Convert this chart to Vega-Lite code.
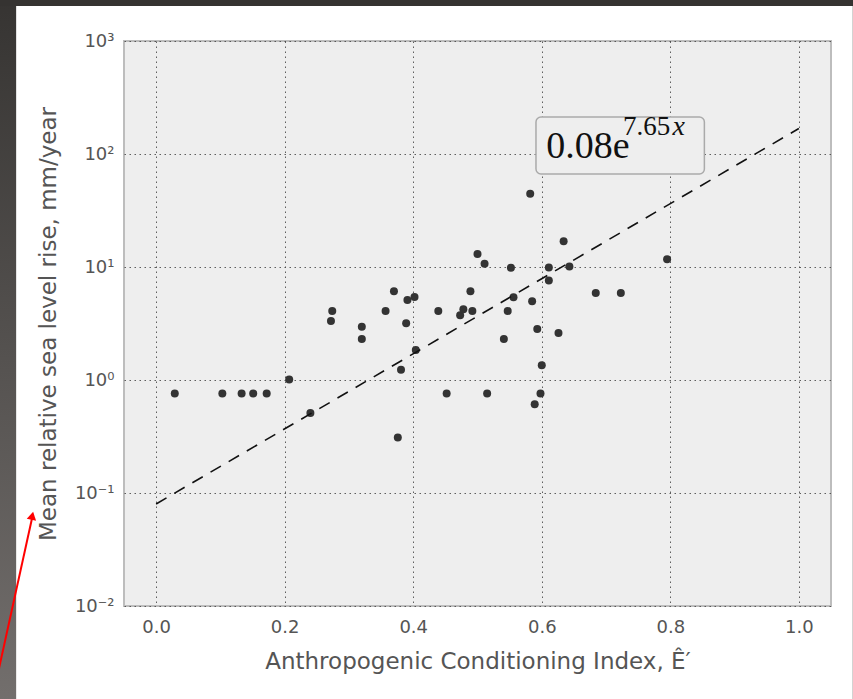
{
  "$schema": "https://vega.github.io/schema/vega-lite/v6.json",
  "width": 707,
  "height": 565,
  "autosize": {"type": "none"},
  "padding": {"left": 124, "top": 41, "right": 22, "bottom": 93},
  "background": "white",
  "config": {
    "view": {"fill": "#eeeeee", "stroke": "#bdbdbd", "strokeWidth": 2},
    "axis": {
      "domain": false,
      "ticks": false,
      "grid": true,
      "gridColor": "#444444",
      "gridDash": [1.5, 3.5],
      "gridOpacity": 0.85,
      "labelFont": "DejaVu Sans",
      "labelFontSize": 18,
      "labelColor": "#555555",
      "titleFont": "DejaVu Sans",
      "titleFontSize": 23,
      "titleFontWeight": "normal",
      "titleColor": "#555555"
    }
  },
  "datasets": {
    "points": [
      {"x": 0.029, "y": 0.76}, {"x": 0.103, "y": 0.76}, {"x": 0.133, "y": 0.76},
      {"x": 0.151, "y": 0.76}, {"x": 0.172, "y": 0.76}, {"x": 0.207, "y": 1.01},
      {"x": 0.240, "y": 0.51}, {"x": 0.274, "y": 4.08}, {"x": 0.272, "y": 3.33},
      {"x": 0.320, "y": 2.96}, {"x": 0.320, "y": 2.31}, {"x": 0.357, "y": 4.08},
      {"x": 0.370, "y": 6.1}, {"x": 0.391, "y": 5.1}, {"x": 0.402, "y": 5.43},
      {"x": 0.389, "y": 3.18}, {"x": 0.404, "y": 1.84}, {"x": 0.381, "y": 1.23},
      {"x": 0.376, "y": 0.31}, {"x": 0.439, "y": 4.08}, {"x": 0.452, "y": 0.76},
      {"x": 0.473, "y": 3.74}, {"x": 0.478, "y": 4.22}, {"x": 0.492, "y": 4.08},
      {"x": 0.489, "y": 6.1}, {"x": 0.500, "y": 13.0}, {"x": 0.511, "y": 10.7},
      {"x": 0.515, "y": 0.76}, {"x": 0.552, "y": 9.86}, {"x": 0.556, "y": 5.41},
      {"x": 0.547, "y": 4.08}, {"x": 0.541, "y": 2.31}, {"x": 0.585, "y": 4.98},
      {"x": 0.593, "y": 2.82}, {"x": 0.600, "y": 1.35}, {"x": 0.598, "y": 0.76},
      {"x": 0.589, "y": 0.61}, {"x": 0.611, "y": 9.9}, {"x": 0.611, "y": 7.6},
      {"x": 0.626, "y": 2.6}, {"x": 0.634, "y": 16.9}, {"x": 0.643, "y": 10.1},
      {"x": 0.582, "y": 44.5}, {"x": 0.684, "y": 5.89}, {"x": 0.723, "y": 5.89},
      {"x": 0.795, "y": 11.7}
    ],
    "fit": [{"x": 0, "y": 0.08}, {"x": 1, "y": 168.1}],
    "box": [{"x": 0.591, "x2": 0.853, "y": 212, "y2": 66.5}],
    "label": [
      {"part": "base", "text": "0.08e", "x": 0.607, "y": 92.2},
      {"part": "exp", "text": "7.65", "x": 0.7265, "y": 147.3},
      {"part": "var", "text": "x", "x": 0.8035, "y": 147.3}
    ],
    "arrow": [{"x": -0.255, "y": 0.0015}, {"x": -0.1925, "y": 0.062}],
    "arrowhead": [{"x": -0.1927, "y": 0.063}],
    "frame": [{}]
  },
  "layer": [
    {
      "data": {"name": "frame"},
      "mark": {"type": "rect", "color": {"gradient": "linear", "x1": 0, "y1": 0, "x2": 0, "y2": 1, "stops": [{"offset": 0, "color": "#353331"}, {"offset": 1, "color": "#75716f"}]}},
      "encoding": {
        "x": {"datum": -0.26, "type": "quantitative", "scale": {"domain": [-0.05, 1.05]}},
        "x2": {"datum": -0.2178},
        "y": {"datum": 3000, "type": "quantitative", "scale": {"type": "log", "domain": [0.01, 1000]}},
        "y2": {"datum": 0.0008}
      }
    },
    {
      "data": {"name": "frame"},
      "mark": {"type": "rect", "color": "#353331"},
      "encoding": {
        "x": {"datum": -0.26, "type": "quantitative"},
        "x2": {"datum": 1.2},
        "y": {"datum": 3000, "type": "quantitative"},
        "y2": {"datum": 2040}
      }
    },
    {
      "data": {"name": "frame"},
      "mark": {"type": "rect", "color": "#353331"},
      "encoding": {
        "x": {"datum": 1.0839, "type": "quantitative"},
        "x2": {"datum": 1.2},
        "y": {"datum": 3000, "type": "quantitative"},
        "y2": {"datum": 0.0008}
      }
    },
    {
      "data": {"name": "arrow"},
      "mark": {"type": "line", "color": "#ff0000", "strokeWidth": 2},
      "encoding": {
        "x": {"field": "x", "type": "quantitative"},
        "y": {"field": "y", "type": "quantitative"}
      }
    },
    {
      "data": {"name": "arrowhead"},
      "mark": {"type": "point", "shape": "triangle-up", "filled": true, "color": "#ff0000", "opacity": 1, "size": 90, "angle": 12},
      "encoding": {
        "x": {"field": "x", "type": "quantitative"},
        "y": {"field": "y", "type": "quantitative"}
      }
    },
    {
      "data": {"name": "points"},
      "mark": {"type": "circle", "size": 64, "color": "#333333", "opacity": 1},
      "encoding": {
        "x": {
          "field": "x", "type": "quantitative",
          "scale": {"domain": [-0.05, 1.05], "nice": false, "zero": false},
          "axis": {"values": [0, 0.2, 0.4, 0.6, 0.8, 1.0], "format": ".1f", "labelPadding": 12, "titlePadding": 14},
          "title": "Anthropogenic Conditioning Index, Ê′"
        },
        "y": {
          "field": "y", "type": "quantitative",
          "scale": {"type": "log", "domain": [0.01, 1000], "nice": false},
          "axis": {
            "values": [0.01, 0.1, 1, 10, 100, 1000],
            "labelExpr": "['10⁻²','10⁻¹','10⁰','10¹','10²','10³'][round(log(datum.value)/LN10)+2]",
            "labelPadding": 10,
            "titlePadding": 14
          },
          "title": "Mean relative sea level rise, mm/year"
        }
      }
    },
    {
      "data": {"name": "fit"},
      "mark": {"type": "line", "color": "#111111", "strokeWidth": 1.6, "strokeDash": [12, 9]},
      "encoding": {
        "x": {"field": "x", "type": "quantitative"},
        "y": {"field": "y", "type": "quantitative"}
      }
    },
    {
      "data": {"name": "box"},
      "mark": {"type": "rect", "fill": "#eeeeee", "stroke": "#aaaaaa", "strokeWidth": 1.5, "cornerRadius": 5},
      "encoding": {
        "x": {"field": "x", "type": "quantitative"},
        "x2": {"field": "x2"},
        "y": {"field": "y", "type": "quantitative"},
        "y2": {"field": "y2"}
      }
    },
    {
      "data": {"name": "label"},
      "transform": [{"filter": "datum.part == 'base'"}],
      "mark": {"type": "text", "font": "Liberation Serif", "fontSize": 38, "align": "left", "baseline": "alphabetic", "color": "#111111"},
      "encoding": {
        "x": {"field": "x", "type": "quantitative"},
        "y": {"field": "y", "type": "quantitative"},
        "text": {"field": "text"}
      }
    },
    {
      "data": {"name": "label"},
      "transform": [{"filter": "datum.part == 'exp'"}],
      "mark": {"type": "text", "font": "Liberation Serif", "fontSize": 27, "align": "left", "baseline": "alphabetic", "color": "#111111"},
      "encoding": {
        "x": {"field": "x", "type": "quantitative"},
        "y": {"field": "y", "type": "quantitative"},
        "text": {"field": "text"}
      }
    },
    {
      "data": {"name": "label"},
      "transform": [{"filter": "datum.part == 'var'"}],
      "mark": {"type": "text", "font": "Liberation Serif", "fontStyle": "italic", "fontSize": 28, "align": "left", "baseline": "alphabetic", "color": "#111111"},
      "encoding": {
        "x": {"field": "x", "type": "quantitative"},
        "y": {"field": "y", "type": "quantitative"},
        "text": {"field": "text"}
      }
    }
  ]
}
